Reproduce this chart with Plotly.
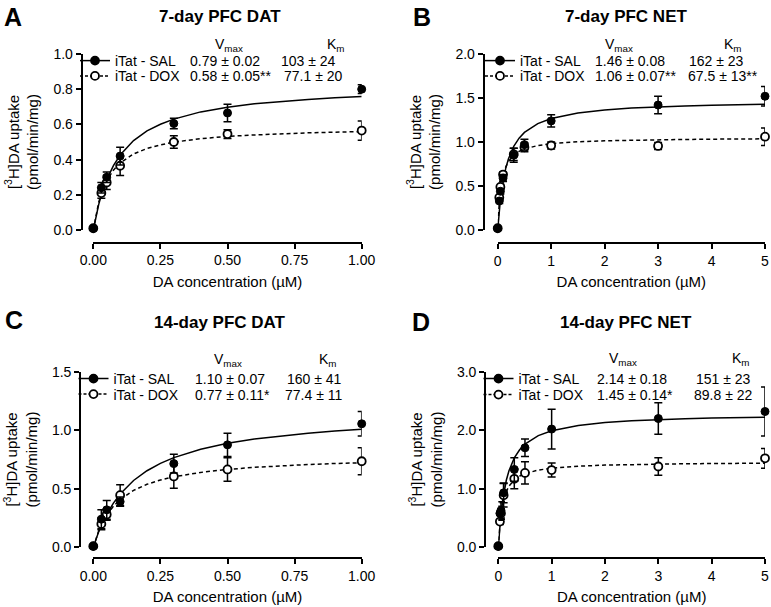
import plotly.graph_objects as go

# ---------------- data ----------------
conc_dat = [0, 0.03, 0.05, 0.1, 0.3, 0.5, 1.0]
conc_net = [0, 0.03, 0.05, 0.1, 0.3, 0.5, 1, 3, 5]

A_sal = [0.01, 0.24, 0.30, 0.42, 0.605, 0.665, 0.80]
A_sal_err = [0, 0.03, 0.03, 0.05, 0.03, 0.05, 0.025]
A_dox = [0.01, 0.21, 0.27, 0.365, 0.50, 0.545, 0.565]
A_dox_err = [0, 0.03, 0.04, 0.055, 0.035, 0.025, 0.055]

B_sal = [0.02, 0.33, 0.44, 0.59, 0.85, 0.97, 1.24, 1.42, 1.52]
B_sal_err = [0, 0.03, 0.03, 0.04, 0.08, 0.06, 0.07, 0.10, 0.11]
B_dox = [0.02, 0.37, 0.49, 0.63, 0.86, 0.94, 0.96, 0.955, 1.06]
B_dox_err = [0, 0.03, 0.03, 0.03, 0.07, 0.05, 0.04, 0.04, 0.10]

C_sal = [0.01, 0.24, 0.32, 0.39, 0.715, 0.875, 1.055]
C_sal_err = [0, 0.08, 0.08, 0.04, 0.08, 0.10, 0.105]
C_dox = [0.01, 0.20, 0.28, 0.445, 0.605, 0.665, 0.735]
C_dox_err = [0, 0.05, 0.05, 0.09, 0.10, 0.10, 0.115]

D_sal = [0.02, 0.58, 0.63, 0.93, 1.33, 1.70, 2.02, 2.20, 2.32]
D_sal_err = [0, 0.12, 0.15, 0.17, 0.20, 0.15, 0.34, 0.27, 0.42]
D_dox = [0.02, 0.44, 0.58, 0.89, 1.17, 1.27, 1.32, 1.38, 1.52]
D_dox_err = [0, 0.05, 0.08, 0.20, 0.17, 0.19, 0.12, 0.15, 0.17]

# fitted curves
curve_x_dat = [0, 0.01, 0.02, 0.03, 0.05, 0.075, 0.1, 0.15, 0.2, 0.25, 0.3, 0.4, 0.5, 0.6, 0.7, 0.8, 0.9, 1.0]
curve_x_net = [0, 0.01, 0.02, 0.03, 0.05, 0.075, 0.1, 0.15, 0.2, 0.3, 0.4, 0.5, 0.75, 1, 1.5, 2, 2.5, 3, 3.5, 4, 4.5, 5]

A_sal_fit = [0, 0.079, 0.144, 0.199, 0.286, 0.366, 0.426, 0.508, 0.563, 0.601, 0.630, 0.671, 0.697, 0.717, 0.731, 0.742, 0.751, 0.758]
A_dox_fit = [0, 0.091, 0.157, 0.208, 0.281, 0.340, 0.381, 0.432, 0.463, 0.484, 0.499, 0.519, 0.532, 0.540, 0.547, 0.552, 0.556, 0.559]
B_sal_fit = [0, 0.084, 0.159, 0.226, 0.342, 0.460, 0.555, 0.701, 0.807, 0.951, 1.044, 1.109, 1.209, 1.267, 1.330, 1.364, 1.385, 1.400, 1.410, 1.418, 1.424, 1.430]
B_dox_fit = [0, 0.131, 0.233, 0.315, 0.438, 0.543, 0.618, 0.716, 0.778, 0.851, 0.894, 0.921, 0.960, 0.981, 1.003, 1.014, 1.021, 1.026, 1.029, 1.032, 1.034, 1.036]
C_sal_fit = [0, 0.070, 0.132, 0.188, 0.283, 0.378, 0.455, 0.571, 0.654, 0.717, 0.766, 0.838, 0.888, 0.925, 0.953, 0.975, 0.993, 1.008]
C_dox_fit = [0, 0.076, 0.139, 0.192, 0.275, 0.351, 0.408, 0.486, 0.538, 0.575, 0.602, 0.640, 0.665, 0.683, 0.697, 0.707, 0.716, 0.722]
D_sal_fit = [0, 0.143, 0.269, 0.382, 0.573, 0.763, 0.916, 1.145, 1.309, 1.527, 1.665, 1.762, 1.908, 1.991, 2.082, 2.130, 2.160, 2.181, 2.196, 2.207, 2.216, 2.223]
D_dox_fit = [0, 0.162, 0.292, 0.398, 0.562, 0.706, 0.811, 0.952, 1.043, 1.153, 1.217, 1.259, 1.319, 1.352, 1.386, 1.404, 1.415, 1.422, 1.427, 1.431, 1.434, 1.437]

panel_letters = ["A", "B", "C", "D"]
panel_titles = ["7-day PFC DAT", "7-day PFC NET", "14-day PFC DAT", "14-day PFC NET"]
series_names = ["iTat - SAL", "iTat - DOX"]
vmax_text = [["0.79 ± 0.02", "0.58 ± 0.05**"], ["1.46 ± 0.08", "1.06 ± 0.07**"],
             ["1.10 ± 0.07", "0.77 ± 0.11*"], ["2.14 ± 0.18", "1.45 ± 0.14*"]]
km_text = [["103 ± 24", "77.1 ± 20"], ["162 ± 23", "67.5 ± 13**"],
           ["160 ± 41", "77.4 ± 11"], ["151 ± 23", "89.8 ± 22"]]

dat_xticks = [0, 0.25, 0.5, 0.75, 1.0]
dat_xticktext = ["0.00", "0.25", "0.50", "0.75", "1.00"]
net_xticks = [0, 1, 2, 3, 4, 5]
net_xticktext = ["0", "1", "2", "3", "4", "5"]
A_yticks = [0, 0.2, 0.4, 0.6, 0.8, 1.0]
B_yticks = [0, 0.5, 1.0, 1.5, 2.0]
C_yticks = [0, 0.5, 1.0, 1.5]
D_yticks = [0, 1.0, 2.0, 3.0]

# ---------------- layout geometry (pixels in the 771x607 window) ----------------
W, H = 771, 607
FONT = "Liberation Sans, Arial, Helvetica, sans-serif"
BLACK = "#000000"


def fx(p):
    return p / W


def fy(p):
    return 1 - p / H


panels = [
    dict(ax="", conc=conc_dat, sal=A_sal, sale=A_sal_err, dox=A_dox, doxe=A_dox_err,
         cx=curve_x_dat, csal=A_sal_fit, cdox=A_dox_fit,
         xd=(93.3, 361.7), yd=(54, 230), ylinex=81.5, xliney=242.7,
         xr=[0, 1.0], yr=[0, 1.0], xt=dat_xticks, xtt=dat_xticktext, yt=A_yticks, yfmt="{:.1f}",
         letter=(13, 17), title=(220, 17), legx=95, rows=(61, 76.3), head=45,
         vx=188, vh=213, kx=(308, 313), kh=325),
    dict(ax="2", conc=conc_net, sal=B_sal, sale=B_sal_err, dox=B_dox, doxe=B_dox_err,
         cx=curve_x_net, csal=B_sal_fit, cdox=B_dox_fit,
         xd=(497.7, 765), yd=(54, 230), ylinex=483.5, xliney=243,
         xr=[0, 5], yr=[0, 2.0], xt=net_xticks, xtt=net_xticktext, yt=B_yticks, yfmt="{:.1f}",
         letter=(422, 17), title=(626, 17), legx=500, rows=(61, 76.3), head=45,
         vx=593, vh=603, kx=(716.5, 722.5), kh=722),
    dict(ax="3", conc=conc_dat, sal=C_sal, sale=C_sal_err, dox=C_dox, doxe=C_dox_err,
         cx=curve_x_dat, csal=C_sal_fit, cdox=C_dox_fit,
         xd=(93.3, 361.7), yd=(371.7, 547.3), ylinex=80, xliney=558,
         xr=[0, 1.0], yr=[0, 1.5], xt=dat_xticks, xtt=dat_xticktext, yt=C_yticks, yfmt="{:.1f}",
         letter=(14, 320), title=(220, 322), legx=93.5, rows=(379, 394.5), head=360,
         vx=193, vh=212, kx=(314.5, 313), kh=317),
    dict(ax="4", conc=conc_net, sal=D_sal, sale=D_sal_err, dox=D_dox, doxe=D_dox_err,
         cx=curve_x_net, csal=D_sal_fit, cdox=D_dox_fit,
         xd=(498.3, 765), yd=(371.7, 547.3), ylinex=485, xliney=558,
         xr=[0, 5], yr=[0, 3.0], xt=net_xticks, xtt=net_xticktext, yt=D_yticks, yfmt="{:.1f}",
         letter=(421, 322), title=(626, 322), legx=498.5, rows=(379, 395), head=359,
         vx=595, vh=607, kx=(723, 723), kh=730),
]

fig = go.Figure()
annotations = []
layout = dict(
    template="none",
    width=W, height=H, margin=dict(l=0, r=0, t=0, b=0, pad=0, autoexpand=False),
    paper_bgcolor="white", plot_bgcolor="white",
    font=dict(family=FONT, size=14, color=BLACK),
    showlegend=True,
)

axis_common = dict(showline=True, linecolor=BLACK, linewidth=1.6, ticks="outside",
                   ticklen=5, tickwidth=1.5, tickcolor=BLACK, showgrid=False,
                   zeroline=False, fixedrange=True, anchor="free", automargin=False,
                   tickfont=dict(family=FONT, size=14, color=BLACK))

leg_idx = 0
for i, p in enumerate(panels):
    xa, ya = "x" + p["ax"], "y" + p["ax"]
    xname, yname = "xaxis" + p["ax"], "yaxis" + p["ax"]
    layout[xname] = dict(axis_common, domain=[fx(p["xd"][0]), fx(p["xd"][1])], range=p["xr"],
                         position=fy(p["xliney"]), tickvals=p["xt"], ticktext=p["xtt"],
                         title=dict(text="DA concentration (µM)", font=dict(size=15), standoff=8))
    layout[yname] = dict(axis_common, domain=[fy(p["yd"][1]), fy(p["yd"][0])], range=p["yr"],
                         position=fx(p["ylinex"]), tickvals=p["yt"],
                         ticktext=[p["yfmt"].format(v) for v in p["yt"]],
                         title=dict(text="[<sup>3</sup>H]DA uptake<br>(pmol/min/mg)",
                                    font=dict(size=15), standoff=10))

    # fitted curves
    fig.add_trace(go.Scatter(x=p["cx"], y=p["cdox"], mode="lines", xaxis=xa, yaxis=ya,
                             line=dict(color=BLACK, width=1.5, dash="4px,3px"),
                             showlegend=False, hoverinfo="skip"))
    fig.add_trace(go.Scatter(x=p["cx"], y=p["csal"], mode="lines", xaxis=xa, yaxis=ya,
                             line=dict(color=BLACK, width=1.5), showlegend=False,
                             hoverinfo="skip"))
    # data points
    fig.add_trace(go.Scatter(x=p["conc"], y=p["dox"], mode="markers", xaxis=xa, yaxis=ya,
                             error_y=dict(type="data", array=p["doxe"], color=BLACK,
                                          thickness=1.5, width=4),
                             marker=dict(symbol="circle", size=8, color="white",
                                         line=dict(color=BLACK, width=1.8)),
                             cliponaxis=False, showlegend=False))
    fig.add_trace(go.Scatter(x=p["conc"], y=p["sal"], mode="markers", xaxis=xa, yaxis=ya,
                             error_y=dict(type="data", array=p["sale"], color=BLACK,
                                          thickness=1.5, width=4),
                             marker=dict(symbol="circle", size=8, color=BLACK,
                                         line=dict(color=BLACK, width=1)),
                             cliponaxis=False, showlegend=False))

    # legend entries (one legend per row so rows can sit tight)
    for j, name in enumerate(series_names):
        leg_idx += 1
        lname = "legend" if leg_idx == 1 else "legend%d" % leg_idx
        filled = j == 0
        fig.add_trace(go.Scatter(
            x=[None], y=[None], xaxis=xa, yaxis=ya, mode="lines+markers", name=name,
            legend=lname,
            line=dict(color=BLACK, width=1.5, dash=None if filled else "3px,2px"),
            marker=dict(symbol="circle", size=8, color=BLACK if filled else "white",
                        line=dict(color=BLACK, width=1.8))))
        layout[lname] = dict(x=fx(p["legx"] - 20), y=fy(p["rows"][j]), xanchor="left",
                             yanchor="middle", bgcolor="rgba(0,0,0,0)", borderwidth=0,
                             font=dict(family=FONT, size=14, color=BLACK), itemwidth=30)

        annotations.append(dict(x=fx(p["vx"]), y=fy(p["rows"][j]), xref="paper", yref="paper",
                                text=vmax_text[i][j], showarrow=False, xanchor="left",
                                yanchor="middle", font=dict(size=14)))
        annotations.append(dict(x=fx(p["kx"][j]), y=fy(p["rows"][j]), xref="paper", yref="paper",
                                text=km_text[i][j], showarrow=False, xanchor="center",
                                yanchor="middle", font=dict(size=14)))

    annotations.append(dict(x=fx(p["vh"]), y=fy(p["head"]), xref="paper", yref="paper",
                            text="V<sub>max</sub>", showarrow=False, xanchor="left",
                            yanchor="middle", font=dict(size=14)))
    annotations.append(dict(x=fx(p["kh"]), y=fy(p["head"]), xref="paper", yref="paper",
                            text="K<sub>m</sub>", showarrow=False, xanchor="left",
                            yanchor="middle", font=dict(size=14)))
    annotations.append(dict(x=fx(p["title"][0]), y=fy(p["title"][1]), xref="paper", yref="paper",
                            text="<b>%s</b>" % panel_titles[i], showarrow=False,
                            xanchor="center", yanchor="middle", font=dict(size=17)))
    annotations.append(dict(x=fx(p["letter"][0]), y=fy(p["letter"][1]), xref="paper",
                            yref="paper", text="<b>%s</b>" % panel_letters[i], showarrow=False,
                            xanchor="center", yanchor="middle", font=dict(size=25)))

layout["annotations"] = annotations
fig.update_layout(**layout)
# remove the browser's default 8px body margin so the figure fills the window
fig.write_html("out.html",
               config={"displayModeBar": False, "staticPlot": False},
               post_script="document.body.style.margin='0px';document.body.style.overflow='hidden';")
